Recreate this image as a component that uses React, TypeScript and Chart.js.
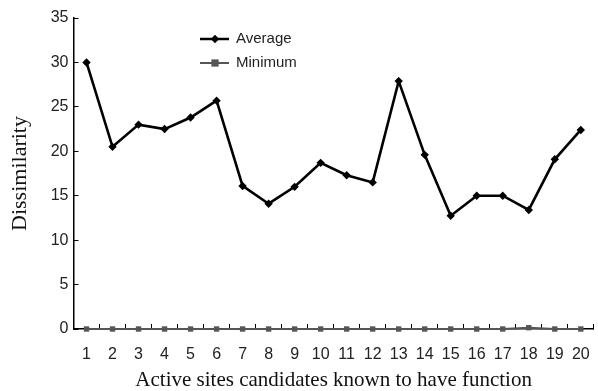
import React, { useEffect, useRef } from "react";
import { Chart, registerables } from "chart.js";

Chart.register(...registerables);

const categories = ["1","2","3","4","5","6","7","8","9","10","11","12","13","14","15","16","17","18","19","20"];
const averageValues = [30, 20.5, 23, 22.5, 23.8, 25.7, 16.1, 14.1, 16.0, 18.7, 17.3, 16.5, 27.9, 19.6, 12.75, 15, 15, 13.4, 19.1, 22.4];
const minimumValues = [0, 0, 0, 0, 0, 0, 0, 0, 0, 0, 0, 0, 0, 0, 0, 0, 0, 0.15, 0, 0];
const seriesNames = ["Average", "Minimum"];
const yTickValues = [0, 5, 10, 15, 20, 25, 30, 35];
const xTitle = "Active sites candidates known to have function";
const yTitle = "Dissimilarity";

const sansFont = "'Liberation Sans', Arial, sans-serif";
const serifFont = "'Liberation Serif', 'Times New Roman', serif";

const legendPlugin = {
  id: "insideLegend",
  afterDraw(chart: any) {
    const ctx = chart.ctx;
    const items = [
      { name: seriesNames[0], color: "#000000", style: "rectRot", r: 4.2, lw: 2.5, y: 39 },
      { name: seriesNames[1], color: "#555555", style: "rect", r: 3.6, lw: 2, y: 63 },
    ];
    ctx.save();
    items.forEach((it) => {
      const x0 = 200, x1 = 229, cx = 215;
      ctx.strokeStyle = it.color;
      ctx.lineWidth = it.lw;
      ctx.beginPath();
      ctx.moveTo(x0, it.y);
      ctx.lineTo(x1, it.y);
      ctx.stroke();
      ctx.fillStyle = it.color;
      if (it.style === "rectRot") {
        ctx.beginPath();
        ctx.moveTo(cx, it.y - it.r);
        ctx.lineTo(cx + it.r, it.y);
        ctx.lineTo(cx, it.y + it.r);
        ctx.lineTo(cx - it.r, it.y);
        ctx.closePath();
        ctx.fill();
      } else {
        ctx.fillRect(cx - it.r, it.y - it.r, it.r * 2, it.r * 2);
      }
      ctx.fillStyle = "#222";
      ctx.font = "15px " + sansFont;
      ctx.textBaseline = "middle";
      ctx.textAlign = "left";
      ctx.fillText(it.name, 236, it.y);
    });
    ctx.restore();
  },
};

export default function App() {
  const ref = useRef<HTMLCanvasElement | null>(null);
  useEffect(() => {
    if (!ref.current) return;
    const chart = new Chart(ref.current, {
      type: "line",
      data: {
        labels: categories,
        datasets: [
          {
            label: seriesNames[1],
            data: minimumValues,
            borderColor: "#555555",
            backgroundColor: "#555555",
            borderWidth: 2,
            pointStyle: "rect",
            pointRadius: 3.8,
            pointBorderWidth: 0,
            tension: 0,
            clip: false,
          },
          {
            label: seriesNames[0],
            data: averageValues,
            borderColor: "#000000",
            backgroundColor: "#000000",
            borderWidth: 2.6,
            pointStyle: "rectRot",
            pointRadius: 4.2,
            pointBorderWidth: 0,
            tension: 0,
            clip: false,
          },
        ],
      },
      plugins: [legendPlugin],
      options: {
        animation: false,
        responsive: true,
        maintainAspectRatio: false,
        layout: { padding: { top: 18, right: 1, left: 0, bottom: 0 } },
        plugins: {
          legend: { display: false },
          tooltip: { enabled: false },
        },
        scales: {
          x: {
            type: "category",
            offset: true,
            afterFit(scale: any) {
              scale.height = 62;
              scale.paddingLeft = 0;
              scale.paddingRight = 0;
            },
            grid: {
              display: true,
              offset: true,
              drawOnChartArea: false,
              drawTicks: true,
              tickLength: -5,
              color: "#000",
              lineWidth: 1,
            },
            border: { display: true, color: "#000", width: 1.5 },
            ticks: {
              padding: 21,
              color: "#222",
              font: { family: sansFont, size: 16 },
              maxRotation: 0,
              autoSkip: false,
            },
            title: {
              display: true,
              text: xTitle,
              color: "#111",
              font: { family: serifFont, size: 21 },
              padding: { top: 0, bottom: -2 },
            },
          },
          y: {
            min: 0,
            max: 35,
            afterFit(scale: any) {
              scale.width = 73.5;
              scale.paddingTop = 0;
              scale.paddingBottom = 0;
            },
            afterBuildTicks(scale: any) {
              scale.ticks = yTickValues.map((v) => ({ value: v }));
            },
            grid: {
              display: true,
              drawOnChartArea: false,
              drawTicks: true,
              tickLength: -5,
              color: "#000",
              lineWidth: 1,
            },
            border: { display: true, color: "#000", width: 1.5 },
            ticks: {
              padding: 10,
              color: "#222",
              font: { family: sansFont, size: 16 },
            },
            title: {
              display: true,
              text: yTitle,
              color: "#111",
              font: { family: serifFont, size: 22 },
              padding: { top: 7, bottom: 0 },
            },
          },
        },
      },
    });
    return () => chart.destroy();
  }, []);
  return (
    <div style={{ position: "absolute", left: 0, top: 0, width: 598, height: 391, background: "#fff" }}>
      <canvas ref={ref} />
    </div>
  );
}
